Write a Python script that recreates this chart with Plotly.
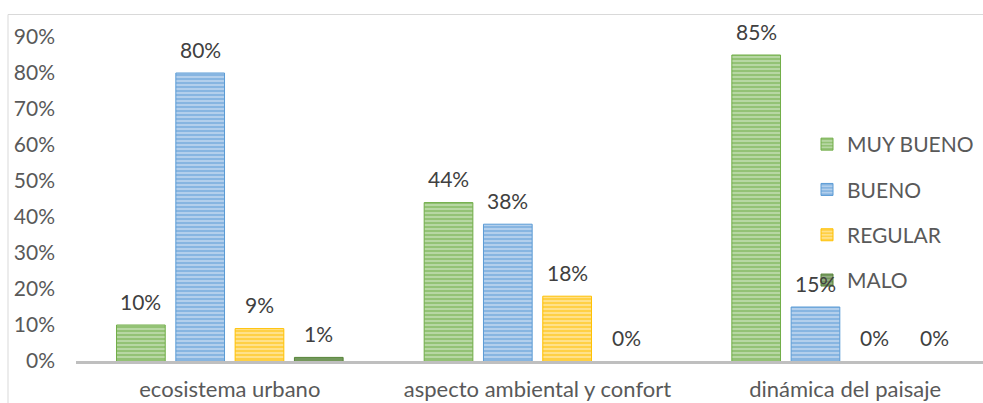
import plotly.graph_objects as go

categories = ["ecosistema urbano", "aspecto ambiental y confort", "dinámica del paisaje"]
series_names = ["MUY BUENO", "BUENO", "REGULAR", "MALO"]
muy_bueno = [0.10, 0.44, 0.85]
bueno = [0.80, 0.38, 0.15]
regular = [0.09, 0.18, 0.00]
malo = [0.01, 0.00, 0.00]
series_values = [muy_bueno, bueno, regular, malo]

colors = ["#70AD47", "#5B9BD5", "#FFC000", "#548235"]
light = ["#B7D7A3", "#B3CFEC", "#FFE18A", "#93AE82"]

W, H = 983, 403
ML, MR, MT, MB = 76, 0, 37, 42
plot_w = W - ML - MR
plot_h = H - MT - MB
cat_px = 307.65
x_hi = plot_w / cat_px - 0.5
bargap = 0.229
bargroupgap = 0.179
slot_px = cat_px * (1 - bargap) / len(series_names)

FONT = "Lato"
fig = go.Figure()
for i, (name, vals) in enumerate(zip(series_names, series_values)):
    fig.add_trace(go.Bar(
        name=name, x=categories, y=vals,
        legendgroup=name,
        marker=dict(color=light[i],
                    line=dict(color=colors[i], width=[1 if v > 0 else 0 for v in vals]),
                    pattern=dict(shape="-", fgcolor=colors[i], bgcolor=light[i],
                                 size=4, solidity=0.5, fillmode="overlay")),
    ))

annotations = []
for i, vals in enumerate(series_values):
    for j, v in enumerate(vals):
        annotations.append(dict(
            x=categories[j], y=v, xref="x", yref="y",
            text=f"{round(v * 100)}%", showarrow=False,
            xshift=(i - 1.5) * slot_px, yshift=24,
            yanchor="middle", xanchor="center",
            font=dict(family=FONT, size=21, color="#404040"),
        ))

# border of the chart area (partly cut off by the frame)
shapes = [dict(type="rect", xref="paper", yref="paper",
               x0=(8 - ML) / plot_w, x1=1.2,
               y0=-0.5, y1=1 + (MT - 14.5) / plot_h,
               line=dict(color="#D9D9D9", width=1), fillcolor="rgba(0,0,0,0)", layer="below")]

fig.update_layout(
    width=W, height=H,
    margin=dict(l=ML, r=MR, t=MT, b=MB, pad=0, autoexpand=False),
    paper_bgcolor="white", plot_bgcolor="white",
    barmode="group", bargap=bargap, bargroupgap=bargroupgap,
    font=dict(family=FONT, size=21, color="#595959"),
    showlegend=True,
    legend=dict(x=(807 - ML) / plot_w, y=1 + (MT - 124) / plot_h,
                xanchor="left", yanchor="top",
                font=dict(family=FONT, size=21, color="#595959"),
                tracegroupgap=15, traceorder="grouped",
                bgcolor="rgba(0,0,0,0)", borderwidth=0),
    annotations=annotations,
    shapes=shapes,
    xaxis=dict(range=[-0.5, x_hi], showgrid=False, zeroline=False,
               showline=True, linecolor="#BFBFBF", linewidth=2.5,
               ticks="", ticklabelstandoff=7, automargin=False,
               tickfont=dict(family=FONT, size=22, color="#595959")),
    yaxis=dict(range=[0, 0.9], dtick=0.1, tickformat=".0%",
               showgrid=False, zeroline=False, showline=False,
               ticks="", ticklabelstandoff=20, automargin=False,
               tickfont=dict(family=FONT, size=21, color="#595959")),
)

fig.write_html("out.html", config={"displayModeBar": False},
               post_script="document.body.style.margin='0';document.body.style.overflow='hidden';")
